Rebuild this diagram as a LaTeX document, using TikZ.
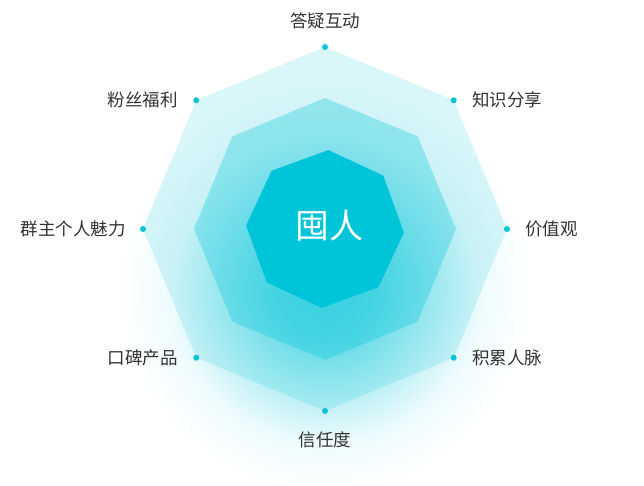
\documentclass[tikz,border=0pt]{standalone}
\usepackage{fontspec}
\newfontfamily\cjk{Noto Sans CJK SC}
\usepackage{xcolor}
\usetikzlibrary{positioning}

\definecolor{tealc}{HTML}{00C5D9}
\definecolor{labelgray}{HTML}{333333}
\colorlet{glowA}{tealc!64!white}
\colorlet{glowB}{tealc!54!white}
\colorlet{glowC}{tealc!30!white}
\colorlet{glowD}{tealc!7!white}
\pgfdeclareradialshading{glow}{\pgfpoint{0bp}{0bp}}{color(0bp)=(glowA); color(6.25bp)=(glowB); color(12.5bp)=(glowC); color(18.75bp)=(glowD); color(25bp)=(white); color(50bp)=(white)}

\tikzset{
  dot/.style={circle, fill=tealc, inner sep=0pt, minimum size=6pt},
  lbl/.style={inner sep=0pt, text=labelgray, font=\cjk\fontsize{17.5}{20}\selectfont},
}

\begin{document}
\begin{tikzpicture}[x=1pt,y=1pt]
    \useasboundingbox (-325,-257) rectangle (319,229);
    \fill[white] (-325,-257) rectangle (319,229);

    \begin{scope}
        \clip (-325,-257) rectangle (319,229);
        \shade[shading=glow] (0,-60) circle (205pt);
    \end{scope}

    \fill[tealc, opacity=.15] (90:182) \foreach \a in {1,...,7} {-- (90+45*\a:182)} -- cycle;
    \fill[tealc, opacity=.3] (90:131) \foreach \a in {1,...,7} {-- (90+45*\a:131)} -- cycle;
    \fill[tealc] (87.5:79) \foreach \a in {1,...,7} {-- (87.5+45*\a:79)} -- cycle;

    \node[text=white, font=\cjk\fontsize{34}{40}\selectfont] (core) at (4,3) {囤人};

    \foreach \i in {1,...,8}
        \node[dot] (d\i) at (135-45*\i:182) {};

    \node[lbl, above=15pt of d1] (l1) {答疑互动};
    \node[lbl, right=15pt of d2] (l2) {知识分享};
    \node[lbl, right=15pt of d3] (l3) {价值观};
    \node[lbl, right=15pt of d4] (l4) {积累人脉};
    \node[lbl, below=17pt of d5] (l5) {信任度};
    \node[lbl, left=15pt of d6] (l6) {口碑产品};
    \node[lbl, left=14pt of d7] (l7) {群主个人魅力};
    \node[lbl, left=15pt of d8] (l8) {粉丝福利};
\end{tikzpicture}
\end{document}
